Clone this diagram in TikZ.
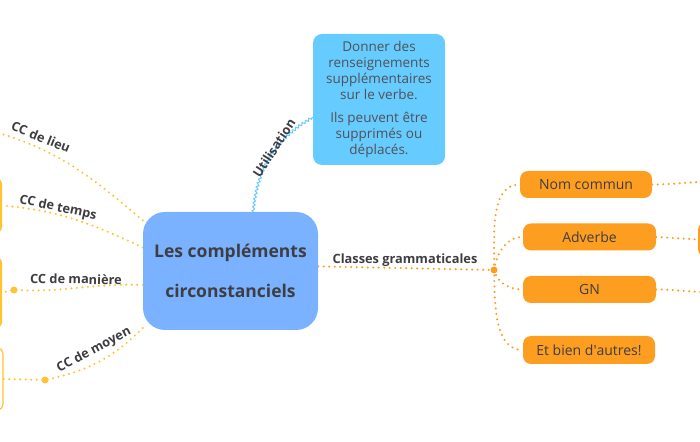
\documentclass[tikz,border=0pt]{standalone}
\usepackage{fontspec}
\setmainfont{Open Sans}
\usetikzlibrary{positioning,decorations.pathmorphing,backgrounds}

\definecolor{cbleu}{RGB}{122,178,255}
\definecolor{cciel}{RGB}{102,204,255}
\definecolor{cjaune}{RGB}{255,196,46}
\definecolor{corange}{RGB}{253,158,33}
\definecolor{ctexte}{RGB}{62,62,66}

\begin{document}
\begin{tikzpicture}[x=1pt, y=1pt,
	centre/.style={rounded corners=22pt, fill=cbleu, minimum width=175pt, minimum height=118pt, align=center, text=ctexte, font=\fontsize{17.5}{40}\selectfont\bfseries},
	info/.style={rounded corners=9pt, fill=cciel, minimum width=132pt, minimum height=131pt, inner sep=2pt, align=center, text=ctexte!90, font=\fontsize{13.5}{16}\selectfont},
	obox/.style={rounded corners=8pt, fill=corange, minimum width=132pt, minimum height=27pt, inner sep=0pt, text=ctexte, font=\fontsize{14}{16}\selectfont},
	jbox/.style={rounded corners=6pt, fill=cjaune, minimum width=30pt, inner sep=0pt},
	lbl/.style={text=ctexte, font=\fontsize{12.8}{15}\selectfont\bfseries, inner sep=1pt},
	jaune/.style={draw=cjaune, line width=2.3pt, line cap=round, dash pattern=on 0pt off 5.5pt},
	orange/.style={draw=corange, line width=2.3pt, line cap=round, dash pattern=on 0pt off 5.5pt},
	wavy/.style={draw=cciel, line width=1pt, decorate, decoration={zigzag, amplitude=1.2pt, segment length=4pt}},
	bullet/.style={circle, inner sep=0pt, minimum size=7pt}]

	\useasboundingbox (0,0) rectangle (700,441);

	% Nodes
	\node[centre] (central) at (230.5,170) {Les compléments\\circonstanciels};
	\node[info] (usage) at (379,341.5) {Donner des\\renseignements\\supplémentaires\\sur le verbe.\\[7pt]Ils peuvent être\\supprimés ou\\déplacés.};

	\node[obox] (nom) at (586,256.5) {Nom commun};
	\node[obox, minimum width=133pt] (adverbe) at (589.5,204) {Adverbe};
	\node[obox, minimum width=133pt] (gn) at (589.5,151.5) {GN};
	\node[obox, minimum height=28pt] (autres) at (589,91) {Et bien d\textquotesingle autres!};
	\node[obox, minimum width=30pt, minimum height=35pt] (suite) at (713,201.5) {};
	\node[bullet, fill=corange] (hub) at (494,171) {};

	\node[jbox, minimum height=55pt] (temps) at (-13,235.5) {};
	\node[jbox, minimum height=71pt] (maniere) at (-13,148.5) {};
	\node[jbox, fill=white, draw=cjaune, line width=1.2pt, minimum height=62pt] (moyen) at (-12,62) {};
	\coordinate (lieu) at (-1,308);
	\node[bullet, fill=cjaune] (dmaniere) at (14,151) {};
	\node[bullet, fill=cjaune] (dmoyen) at (45,61) {};
	\coordinate (nomfin) at (702,259);
	\coordinate (gnfin) at (702,149);

	% Labels
	\node[lbl, rotate=57] (lusage) at (274,293) {Utilisation};
	\node[lbl, rotate=-22] (llieu) at (41,304) {CC de lieu};
	\node[lbl, rotate=-12] (ltemps) at (58,233) {CC de temps};
	\node[lbl, rotate=-1] (lmaniere) at (76,162) {CC de manière};
	\node[lbl, rotate=28] (lmoyen) at (94,91) {CC de moyen};
	\node[lbl] (lclasses) at (405,181) {Classes grammaticales};

	% Connectors
	\begin{scope}[on background layer]
		\draw[wavy] (central.69) to[out=85, in=210] (usage.195);

		\draw[jaune] (central.150) to[out=140, in=-17] (lieu);
		\draw[jaune] (central.165) to[out=155, in=-5] (temps.east);
		\draw[jaune] (central.189) to[out=178, in=-3] (dmaniere.center) -- (maniere.east);
		\draw[jaune] (central.213) to[out=225, in=12] (dmoyen.center) -- (moyen.east);

		\draw[orange] (central.3) -- (hub.center);
		\draw[orange] (hub.center) to[out=88, in=180, looseness=0.9] (nom.west);
		\draw[orange] (hub.center) to[out=80, in=180] (adverbe.west);
		\draw[orange] (hub.center) to[out=-75, in=180] (gn.west);
		\draw[orange] (hub.center) to[out=-88, in=180, looseness=0.9] (autres.west);

		\draw[orange] (nom.east) to[out=0, in=182] (nomfin);
		\draw[orange] (adverbe.east) -- (suite.west);
		\draw[orange] (gn.east) to[out=0, in=178] (gnfin);
	\end{scope}

\end{tikzpicture}
\end{document}
